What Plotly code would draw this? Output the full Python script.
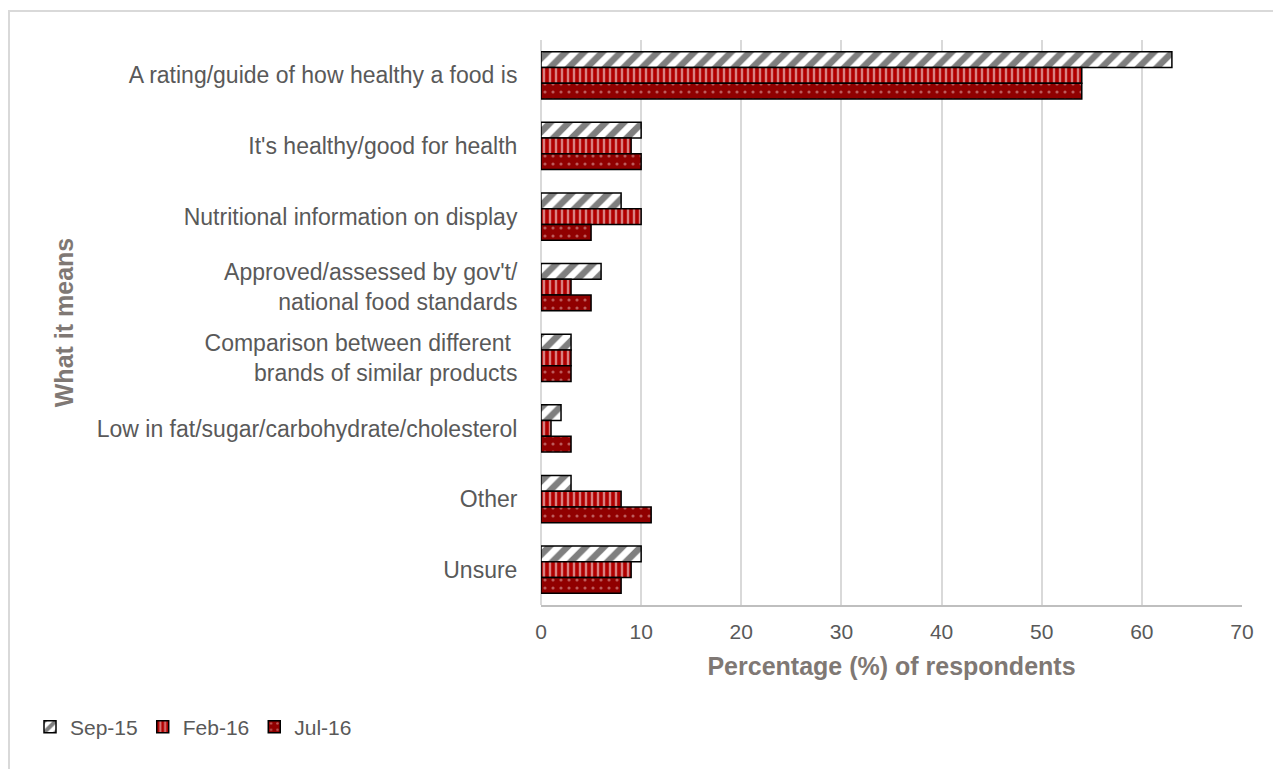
import plotly.graph_objects as go

categories = [
    "A rating/guide of how healthy a food is",
    "It's healthy/good for health",
    "Nutritional information on display",
    "Approved/assessed by gov't/<br>national food standards",
    "Comparison between different <br>brands of similar products",
    "Low in fat/sugar/carbohydrate/cholesterol",
    "Other",
    "Unsure",
]
sep15 = [63, 10, 8, 6, 3, 2, 3, 10]
feb16 = [54, 9, 10, 3, 3, 1, 8, 9]
jul16 = [54, 10, 5, 5, 3, 3, 11, 8]
x_ticks = [0, 10, 20, 30, 40, 50, 60, 70]

FONT = "Liberation Sans, Arial, sans-serif"
TICK_COLOR = "#595959"
TITLE_COLOR = "#7f7874"

# figure-pixel geometry (page is offset by the 8px body margin)
L, R, T, B = 533, 47, 32, 172
PW = 1281 - L - R
PH = 769 - T - B

fig = go.Figure()
fig.add_trace(go.Bar(
    name="Sep-15", y=categories, x=sep15, orientation="h",
    marker=dict(color="white", line=dict(color="black", width=1.5),
                pattern=dict(shape="/", fgcolor="black", bgcolor="white", size=13, solidity=0.5)),
))
fig.add_trace(go.Bar(
    name="Feb-16", y=categories, x=feb16, orientation="h",
    marker=dict(color="#b00000", line=dict(color="black", width=1.5),
                pattern=dict(shape="|", fgcolor="white", bgcolor="#b00000", size=6, solidity=0.4)),
))
fig.add_trace(go.Bar(
    name="Jul-16", y=categories, x=jul16, orientation="h",
    marker=dict(color="#900000", line=dict(color="black", width=1.5),
                pattern=dict(shape=".", fgcolor="#e8b8b8", bgcolor="#900000", size=8, solidity=0.12)),
))

fig.update_layout(
    width=1281, height=769,
    margin=dict(l=L, r=R, t=T, b=B),
    paper_bgcolor="white", plot_bgcolor="white",
    barmode="group", bargap=0.33, bargroupgap=0,
    font=dict(family=FONT, color=TICK_COLOR, size=22),
    legend=dict(orientation="h", x=(22 - L) / PW, y=(PH + T - 719) / PH, xanchor="left", yanchor="middle",
                font=dict(size=21, color=TICK_COLOR), itemwidth=30, traceorder="normal",
                bgcolor="rgba(0,0,0,0)", tracegroupgap=0),
    xaxis=dict(
        range=[0, 70], tickvals=x_ticks, ticktext=[str(v) for v in x_ticks],
        showgrid=True, gridcolor="#d9d9d9", gridwidth=2,
        zeroline=True, zerolinecolor="#d9d9d9", zerolinewidth=2,
        showline=True, linecolor="#bfbfbf", linewidth=2, mirror=False,
        ticks="outside", ticklen=7, tickcolor="rgba(0,0,0,0)",
        tickfont=dict(size=21, color=TICK_COLOR),
        title=dict(text="<b>Percentage (%) of respondents</b>", font=dict(size=25, color=TITLE_COLOR), standoff=15),
        fixedrange=True,
    ),
    yaxis=dict(
        autorange="reversed", showgrid=False, showline=False,
        ticks="outside", ticklen=18, tickcolor="rgba(0,0,0,0)",
        tickfont=dict(size=23, color=TICK_COLOR),
        title=dict(text="<b>What it means</b>", font=dict(size=25, color=TITLE_COLOR), standoff=16),
        fixedrange=True,
    ),
    shapes=[dict(type="rect", xref="paper", yref="paper",
                 x0=(1 - L) / PW, x1=1.2, y0=-0.5, y1=(PH + T - 3) / PH,
                 line=dict(color="#d9d9d9", width=2), fillcolor="rgba(0,0,0,0)", layer="below")],
)

fig.write_html("out.html")
